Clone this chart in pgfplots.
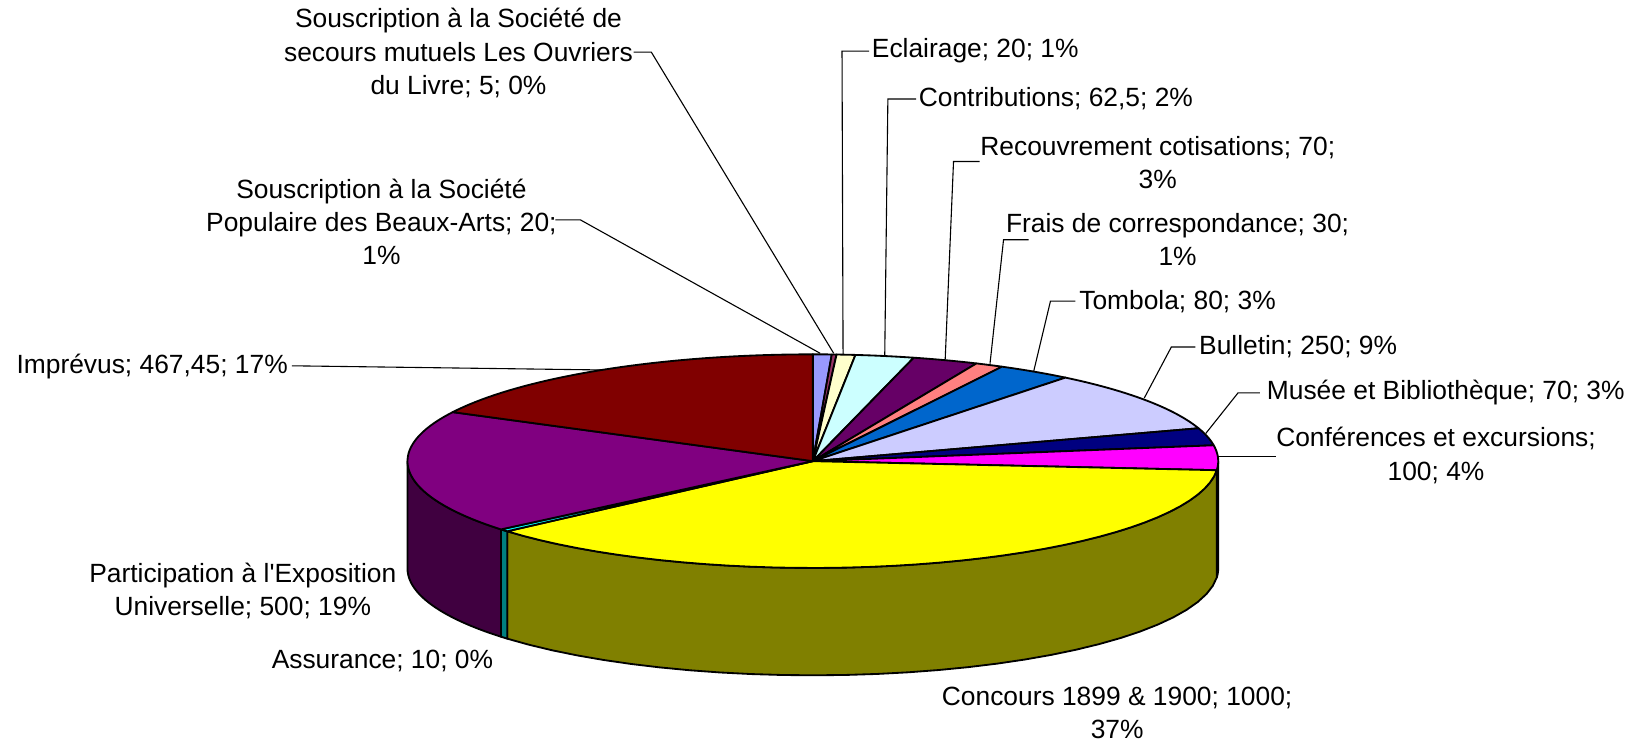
\documentclass[border=0pt]{standalone}
\usepackage{pgfplots}
\usepackage{pgfplotstable}
\pgfplotsset{compat=1.18}
\usepackage{fontspec}
\setmainfont{Liberation Sans}

\definecolor{c0}{HTML}{9999FF}
\definecolor{c1}{HTML}{993366}
\definecolor{c2}{HTML}{FFFFCC}
\definecolor{c3}{HTML}{CCFFFF}
\definecolor{c4}{HTML}{660066}
\definecolor{c5}{HTML}{FF8080}
\definecolor{c6}{HTML}{0066CC}
\definecolor{c7}{HTML}{CCCCFF}
\definecolor{c8}{HTML}{000080}
\definecolor{c9}{HTML}{FF00FF}
\definecolor{c10}{HTML}{FFFF00}
\definecolor{c11}{HTML}{00FFFF}
\definecolor{c12}{HTML}{800080}
\definecolor{c13}{HTML}{800000}

% values in order, clockwise from 12 o'clock
\pgfplotstableread{
value
20
5
20
62.5
70
30
80
250
70
100
1000
10
500
467.45
}\pietable

\def\cx{780}\def\cy{442.5}\def\rx{389}\def\ry{102.5}\def\dep{103}

\tikzset{lbl/.style={font=\fontsize{7.2}{9.1}\selectfont, inner sep=0pt, align=center}}

\begin{document}
\begin{tikzpicture}
\begin{axis}[
  scale only axis, width=15.68cm, height=7.14cm,
  xmin=0, xmax=1568, ymin=0, ymax=714, y dir=reverse,
  hide axis, clip=false,
]
\addplot[draw=none] coordinates {(0,0) (1568,714)};
\pgfplotstablegetrowsof{\pietable}
\pgfmathtruncatemacro\nrows{\pgfplotsretval-1}
\def\total{0}
\pgfplotsforeachungrouped \i in {0,...,\nrows}{%
  \pgfplotstablegetelem{\i}{value}\of\pietable
  \pgfmathsetmacro\total{\total+\pgfplotsretval}%
}
% side walls (front half)
\def\cum{0}
\pgfplotsforeachungrouped \i in {0,...,\nrows}{%
  \pgfplotstablegetelem{\i}{value}\of\pietable
  \pgfmathsetmacro\lo{\cum/\total*360}%
  \pgfmathsetmacro\cum{\cum+\pgfplotsretval}%
  \pgfmathsetmacro\hi{\cum/\total*360}%
  \pgfmathsetmacro\slo{max(\lo,90)}%
  \pgfmathsetmacro\shi{min(\hi,270)}%
  \ifdim\shi pt>\slo pt
    \edef\tmp{\noexpand\addplot[fill=c\i!50!black, draw=black, line width=0.5pt, line join=round, domain=0:61, samples=62, variable=\noexpand\t]
      ({\cx+\rx*sin((1-(\noexpand\t>30.5))*(\slo+\noexpand\t/30*(\shi-\slo))+(\noexpand\t>30.5)*(\shi-(\noexpand\t-31)/30*(\shi-\slo)))},
       {\cy-\ry*cos((1-(\noexpand\t>30.5))*(\slo+\noexpand\t/30*(\shi-\slo))+(\noexpand\t>30.5)*(\shi-(\noexpand\t-31)/30*(\shi-\slo)))+\dep*(\noexpand\t>30.5)}) -- cycle;}%
    \tmp
  \fi
}
% top sectors
\def\cum{0}
\pgfplotsforeachungrouped \i in {0,...,\nrows}{%
  \pgfplotstablegetelem{\i}{value}\of\pietable
  \pgfmathsetmacro\lo{\cum/\total*360}%
  \pgfmathsetmacro\cum{\cum+\pgfplotsretval}%
  \pgfmathsetmacro\hi{\cum/\total*360}%
  \edef\tmp{\noexpand\addplot[fill=c\i, draw=black, line width=0.5pt, line join=round, domain=0:41, samples=42, variable=\noexpand\t]
    ({\cx+(\noexpand\t<40.5)*\rx*sin(\lo+min(\noexpand\t,40)/40*(\hi-\lo))},
     {\cy-(\noexpand\t<40.5)*\ry*cos(\lo+min(\noexpand\t,40)/40*(\hi-\lo))}) -- cycle;}%
  \tmp
}
% leader lines
\addplot[black, line width=0.3pt] coordinates {(608,50) (625,50) (800,339)};
\addplot[black, line width=0.3pt] coordinates {(533,211) (557,211) (787,339)};
\addplot[black, line width=0.3pt] coordinates {(834,49) (808,49) (809,340)};
\addplot[black, line width=0.3pt] coordinates {(879,95) (852,95) (849,341)};
\addplot[black, line width=0.3pt] coordinates {(940,155) (915,155) (907,345)};
\addplot[black, line width=0.3pt] coordinates {(987,230) (963,230) (950,349)};
\addplot[black, line width=0.3pt] coordinates {(1032,289) (1008,289) (992,356)};
\addplot[black, line width=0.3pt] coordinates {(1147,333) (1124,333) (1098,382)};
\addplot[black, line width=0.3pt] coordinates {(1209,377) (1188,377) (1157,416)};
\addplot[black, line width=0.3pt] coordinates {(1224,438) (1168,438)};
\addplot[black, line width=0.3pt] coordinates {(280,351) (578,355)};
% labels
\node[lbl] at (axis cs:440,51) {Souscription à la Société de\\secours mutuels Les Ouvriers\\du Livre; 5; 0\%};
\node[lbl] at (axis cs:366,213) {Souscription à la Société\\Populaire des Beaux-Arts; 20;\\1\%};
\node[lbl, anchor=west] at (axis cs:836,49) {Eclairage; 20; 1\%};
\node[lbl, anchor=west] at (axis cs:881,95) {Contributions; 62,5; 2\%};
\node[lbl] at (axis cs:1111,156) {Recouvrement cotisations; 70;\\3\%};
\node[lbl] at (axis cs:1130,230) {Frais de correspondance; 30;\\1\%};
\node[lbl, anchor=west] at (axis cs:1035,289) {Tombola; 80; 3\%};
\node[lbl, anchor=west] at (axis cs:1150,333) {Bulletin; 250; 9\%};
\node[lbl, anchor=west] at (axis cs:1215,377) {Musée et Bibliothèque; 70; 3\%};
\node[lbl] at (axis cs:1378,437) {Conférences et excursions;\\100; 4\%};
\node[lbl] at (axis cs:1072,684) {Concours 1899 \& 1900; 1000;\\37\%};
\node[lbl] at (axis cs:367,634) {Assurance; 10; 0\%};
\node[lbl] at (axis cs:233,567) {Participation à l\textquotesingle Exposition\\Universelle; 500; 19\%};
\node[lbl] at (axis cs:146,352) {Imprévus; 467,45; 17\%};
\end{axis}
\end{tikzpicture}
\end{document}
